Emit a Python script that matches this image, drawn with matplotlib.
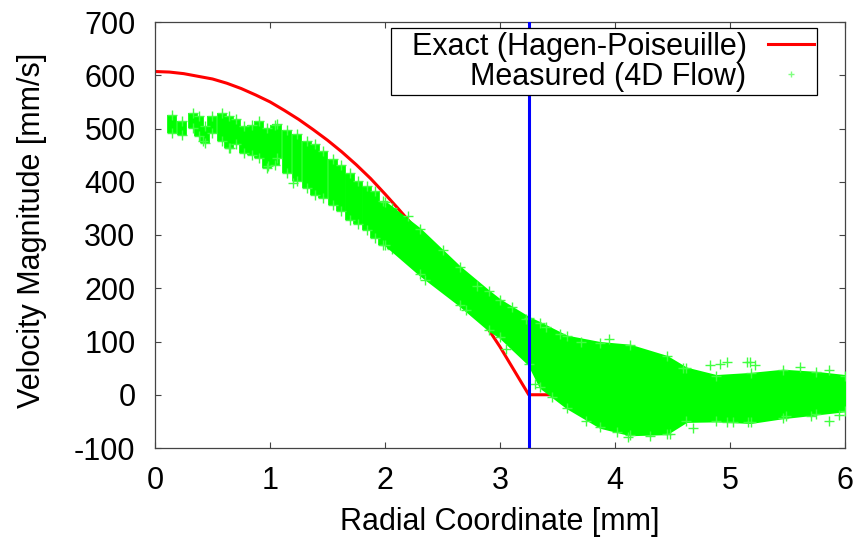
import matplotlib
matplotlib.use("Agg")
import matplotlib.pyplot as plt
from matplotlib.lines import Line2D

plt.rcParams.update({"font.family": ["Liberation Sans", "DejaVu Sans"], "font.size": 22,
                     "axes.unicode_minus": False})

# exact Hagen-Poiseuille profile (mm, mm/s)
exact_r = [0.0, 0.125, 0.25, 0.375, 0.5, 0.625, 0.75, 0.875, 1.0, 1.125, 1.25, 1.375, 1.5,
           1.625, 1.75, 1.875, 2.0, 2.125, 2.25, 2.375, 2.5, 2.625, 2.75, 2.875, 3.0,
           3.125, 3.25, 3.5, 4.0, 5.0, 6.0]
exact_v = [607, 606, 603, 598, 593, 585, 575, 563, 550, 534, 517, 498, 478,
           456, 432, 406, 377, 347, 316, 283, 248, 211, 172, 131, 90,
           45, 0, 0, 0, 0, 0]

# vessel wall position (blue line)
wall_r = 3.25

# measured 4D flow: near the centre the points sit in vertical streaks (r, low, high)
streak_r = [0.145, 0.232, 0.333, 0.386, 0.435, 0.493, 0.58, 0.64, 0.70, 0.77, 0.84, 0.90,
            0.97, 1.04, 1.06, 1.145, 1.232, 1.319, 1.39, 1.464, 1.55, 1.62, 1.696, 1.768,
            1.84, 1.913, 1.986, 2.058]
streak_lo = [492, 487, 501, 486, 473, 492, 476, 464, 470, 454, 451, 445,
             426, 432, 445, 417, 401, 389, 376, 370, 357, 345, 329, 320,
             310, 295, 282, 273]
streak_hi = [526, 514, 529, 523, 504, 523, 529, 523, 517, 504, 507, 514,
             501, 507, 508, 498, 489, 476, 470, 457, 442, 432, 417, 401,
             392, 382, 364, 351]

# further out the points merge into one band: envelope (r, low, high)
band_r = [2.0, 2.3, 2.65, 2.9, 3.0, 3.25, 3.35, 3.58, 3.87, 4.13, 4.45, 4.62, 4.88, 5.18, 5.46, 5.75, 6.0]
band_lo = [282, 226, 168, 122, 108, 57, 14, -24, -61, -75, -73, -50, -49, -52, -43, -36, -30]
band_hi = [362, 312, 240, 195, 178, 145, 135, 110, 98, 93, 72, 50, 36, 40, 46, 42, 36]

# loose points outside the dense band
stray_r = [0.42, 0.65, 0.98, 1.20, 2.20, 2.35, 2.50, 2.70, 2.80, 3.05, 3.10, 3.23, 3.30, 3.40,
           3.45, 3.52, 3.70, 3.75, 3.95, 4.02, 4.11, 4.30, 4.48, 4.59, 4.68, 4.83,
           4.91, 4.97, 4.97, 5.03, 5.15, 5.16, 5.17, 5.22, 5.49, 5.61, 5.70, 5.86, 5.86, 5.95]
stray_v = [476, 464, 429, 398, 335, 215, 272, 160, 205, 85, 165, 142, 20, 128,
           -5, 114, 100, -50, 104, -70, -80, -78, -73, 51, -62, 55,
           58, 61, -52, -52, 61, -52, 61, 55, -39, 53, -40, 47, -49, -38]

GREEN = "#00ff00"
LIGHT = "#40ff40"

fig = plt.figure(figsize=(8.6, 5.39), dpi=100)
ax = fig.add_axes([155 / 860, 91 / 539, 690 / 860, 426 / 539])

ax.plot(exact_r, exact_v, color="#ff0000", lw=2.2, zorder=2)

ax.vlines(streak_r, streak_lo, streak_hi, color=GREEN, lw=7, zorder=3)
ax.plot(streak_r + streak_r, streak_lo + streak_hi, "+", color=LIGHT, ms=7, mew=1, zorder=3)
ax.fill_between(band_r, band_lo, band_hi, color=GREEN, lw=1.5, zorder=3)
ax.plot(band_r + band_r, band_lo + band_hi, "+", color=LIGHT, ms=7, mew=1, zorder=3)
ax.plot(stray_r, stray_v, "+", color=LIGHT, ms=7, mew=1, zorder=3)

ax.axvline(wall_r, color="#0000ff", lw=2.2, zorder=4)

ax.set_xlim(0, 6)
ax.set_ylim(-100, 700)
ax.set_xticks(range(0, 7))
ax.set_yticks(range(-100, 701, 100))
ax.tick_params(direction="in", top=True, right=True, length=4.5, width=0.8,
               color="#444444", labelsize=22)
ax.tick_params(axis="x", pad=13)
ax.tick_params(axis="y", pad=14)
for s in ax.spines.values():
    s.set_color("#444444")
    s.set_linewidth(0.9)

ax.set_xlabel("Radial Coordinate [mm]")
ax.set_ylabel("Velocity Magnitude [mm/s]")
ax.xaxis.set_label_coords(0.5, -0.138)
ax.yaxis.set_label_coords(-0.157, 0.51)

handles = [Line2D([], [], color="#ff0000", lw=2.2),
           Line2D([], [], ls="none", marker="+", color="#80ff80", ms=5, mew=1)]
leg = ax.legend(handles, ["  Exact (Hagen-Poiseuille)", "Measured (4D Flow)"],
                loc="upper right", bbox_to_anchor=(0.96, 0.986), borderaxespad=0,
                markerfirst=False, fancybox=False, framealpha=1, edgecolor="black",
                fontsize=22, borderpad=0.12, labelspacing=0.0, handlelength=1.5,
                handletextpad=0.7)
leg.get_frame().set_linewidth(0.9)
leg.set_zorder(10)

fig.savefig("out.png", dpi=100)
